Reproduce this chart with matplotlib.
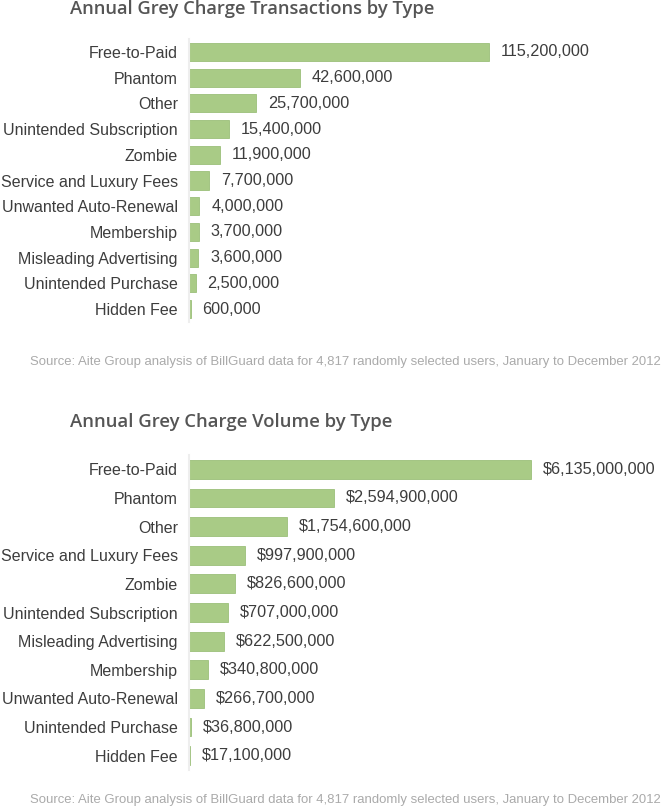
import matplotlib.pyplot as plt

# ----------------------------
# Data
# ----------------------------
tx_types = ["Free-to-Paid", "Phantom", "Other", "Unintended Subscription", "Zombie",
            "Service and Luxury Fees", "Unwanted Auto-Renewal", "Membership",
            "Misleading Advertising", "Unintended Purchase", "Hidden Fee"]
tx_counts = [115200000, 42600000, 25700000, 15400000, 11900000, 7700000,
             4000000, 3700000, 3600000, 2500000, 600000]

vol_types = ["Free-to-Paid", "Phantom", "Other", "Service and Luxury Fees", "Zombie",
             "Unintended Subscription", "Misleading Advertising", "Membership",
             "Unwanted Auto-Renewal", "Unintended Purchase", "Hidden Fee"]
vol_dollars = [6135000000, 2594900000, 1754600000, 997900000, 826600000, 707000000,
               622500000, 340800000, 266700000, 36800000, 17100000]

source = "Source: Aite Group analysis of BillGuard data for 4,817 randomly selected users, January to December 2012"

# ----------------------------
# Style
# ----------------------------
W, H = 664, 807
BAR = "#a9cb86"
EDGE = "#9bc07a"
TXT = "#3d3d3d"
plt.rcParams['font.family'] = ['Liberation Sans', 'DejaVu Sans']

fig = plt.figure(figsize=(W / 100, H / 100), dpi=100)


def panel(top_px, bot_px, xmax, cats, vals, fmt, height):
    ax = fig.add_axes([189 / W, 1 - bot_px / H, 1 - 189 / W, (bot_px - top_px) / H])
    y = list(range(len(cats)))
    ax.barh(y, vals, height=height, color=BAR, edgecolor=EDGE, linewidth=0.6)
    ax.set_xlim(0, xmax)
    ax.set_ylim(len(cats) - 0.5, -0.5)
    for yi, v in zip(y, vals):
        ax.annotate(fmt(v), (v, yi), xytext=(8.6, 0), textcoords="offset points",
                    va="center", ha="left", fontsize=11.7, color=TXT)
    ax.set_yticks(y)
    ax.set_yticklabels(cats, fontsize=11.5, color=TXT)
    ax.tick_params(axis="y", length=0, pad=8)
    ax.set_xticks([])
    for s in ["top", "right", "bottom"]:
        ax.spines[s].set_visible(False)
    ax.spines["left"].set_color("#eeeeee")
    ax.spines["left"].set_linewidth(1.5)
    ax.patch.set_alpha(0)
    return ax


panel(39, 322, 115200000 * 475 / 300, tx_types, tx_counts,
      lambda v: f"{v:,.0f}", 0.70)
panel(455, 770, 6135000000 * 475 / 342, vol_types, vol_dollars,
      lambda v: f"${v:,.0f}", 0.66)

fig.text(70 / W, 1 - 9 / H, "Annual Grey Charge Transactions by Type", fontsize=13.2,
         fontweight="semibold", family="Open Sans", color="#555555", va="center")
fig.text(70 / W, 1 - 422 / H, "Annual Grey Charge Volume by Type", fontsize=13.3,
         fontweight="semibold", family="Open Sans", color="#555555", va="center")
fig.text(661 / W, 1 - 362 / H, source, fontsize=9.45, color="#aaaaaa", ha="right", va="center")
fig.text(661 / W, 1 - 800 / H, source, fontsize=9.45, color="#aaaaaa", ha="right", va="center")

fig.savefig("out.png", dpi=100)
